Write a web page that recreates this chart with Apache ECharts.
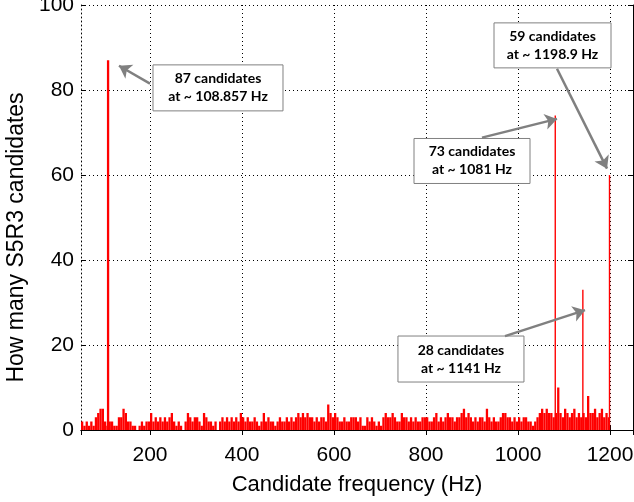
<!DOCTYPE html>
<html><head><meta charset="utf-8">
<script src="https://cdn.jsdelivr.net/npm/echarts@6/dist/echarts.min.js"></script>
<style>html,body{margin:0;padding:0;background:#fff}#c{width:634px;height:502px}</style>
</head><body><div id="c"></div>
<script>
// Histogram of candidate counts, 5 Hz bins starting at 50 Hz
const binStart = 50;
const binWidth = 5;
const noiseCounts = [
  2,1,2,1,2,1,3,4,5,5,
  2,1,2,2,1,1,3,3,5,4,
  2,2,1,1,0,1,2,1,2,2,
  4,2,3,2,3,2,3,2,3,4,
  2,1,2,1,0,2,4,3,2,3,
  3,2,1,4,3,2,2,1,2,0,
  2,3,2,3,2,3,2,3,2,4,
  3,2,3,2,2,3,2,1,2,4,
  2,3,2,2,1,2,3,2,2,3,
  2,3,2,3,4,3,4,3,4,3,
  3,2,3,2,3,3,2,6,4,3,
  4,3,2,2,3,2,2,3,3,3,
  2,3,1,1,3,2,3,2,1,2,
  1,3,4,3,3,4,3,2,2,4,
  3,3,2,3,2,3,2,2,3,3,
  3,2,2,3,4,2,3,2,3,4,
  3,3,2,3,3,4,5,3,4,3,
  2,3,2,3,3,2,5,3,2,3,
  2,2,3,4,4,3,3,2,3,2,
  3,2,3,3,2,2,1,2,3,4,
  5,4,5,4,4,3,4,10,4,3,
  5,4,3,4,5,3,4,3,4,3,
  8,4,4,5,3,4,5,3,4,3
];
// Prominent spikes
const spikeFreqs = [108.857, 1081, 1141, 1198.9];
const spikeCounts = [87, 74, 33, 60];
const spikeWidthsHz = [5, 3, 3, 3];

// Annotations
const annotLines = [
  ['87 candidates', 'at ~ 108.857 Hz'],
  ['59 candidates', 'at ~ 1198.9 Hz'],
  ['73 candidates', 'at ~ 1081 Hz'],
  ['28 candidates', 'at ~ 1141 Hz']
];
const annotCenters = [[347.8, 80.5], [1075, 90.5], [900, 63.3], [876, 16.7]];
const annotSizes = [[130, 46], [117, 45], [116, 45], [126, 46]];
const arrowTails = [[200, 81.5], [1084.8, 85], [921.7, 68.8], [971.7, 22.1]];
const arrowTips = [[132.6, 85.7], [1193.5, 61.5], [1084.8, 73.2], [1145.7, 28.2]];

const xMin = 50, xMax = 1250;
const yMin = 0, yMax = 100, yStep = 20;

const noiseData = noiseCounts.map((v, i) => [binStart + i * binWidth, v]);
const spikeData = spikeFreqs.map((f, i) => [f, spikeCounts[i], spikeWidthsHz[i]]);

const chart = echarts.init(document.getElementById('c'), null, {renderer: 'canvas'});
const dotted = {color: '#000', width: 1, type: [1, 3]};
const font = 'Liberation Sans, Arial, sans-serif';

chart.setOption({
  animation: false,
  backgroundColor: '#fff',
  grid: {left: 81, right: 1, top: 5, bottom: 72, containLabel: false, outerBoundsMode: 'none'},
  xAxis: [{
    type: 'value', min: xMin, max: xMax, splitNumber: 6, position: 'bottom',
    axisLine: {show: true, lineStyle: dotted},
    axisTick: {show: true, inside: true, length: 5, lineStyle: {color: '#000'}},
    axisLabel: {color: '#000', fontSize: 21, fontFamily: font, margin: 15,
      formatter: v => (v % 200 === 0 ? String(v) : '')},
    splitLine: {show: true, lineStyle: dotted},
    name: 'Candidate frequency (Hz)', nameLocation: 'middle', nameGap: 44,
    nameTextStyle: {color: '#000', fontSize: 22, fontFamily: font}
  }, {
    type: 'value', min: xMin, max: xMax, splitNumber: 6, position: 'top',
    axisLine: {show: true, lineStyle: {color: '#000', width: 1}},
    axisTick: {show: true, inside: true, length: 5, lineStyle: {color: '#000'}},
    axisLabel: {show: false}, splitLine: {show: false}
  }],
  yAxis: [{
    type: 'value', min: yMin, max: yMax, interval: yStep,
    axisLine: {show: true, lineStyle: dotted},
    axisTick: {show: true, inside: true, length: 5, lineStyle: {color: '#000'}},
    axisLabel: {color: '#000', fontSize: 21, fontFamily: font, margin: 7},
    splitLine: {show: true, lineStyle: dotted},
    name: 'How many S5R3 candidates', nameLocation: 'middle', nameGap: 52,
    nameTextStyle: {color: '#000', fontSize: 23, fontFamily: font, padding: [0, 40, 0, 0]}
  }, {
    type: 'value', min: yMin, max: yMax, interval: yStep, position: 'right',
    axisLine: {show: true, lineStyle: {color: '#000', width: 1}},
    axisTick: {show: true, inside: true, length: 5, lineStyle: {color: '#000'}},
    axisLabel: {show: false}, splitLine: {show: false}
  }],
  series: [{
    type: 'custom', name: 'noise', clip: true, silent: true,
    renderItem: function (params, api) {
      const f = api.value(0), h = api.value(1);
      const p0 = api.coord([f, h]);
      const p1 = api.coord([f + binWidth, 0]);
      return {type: 'rect', shape: {x: p0[0], y: p0[1], width: p1[0] - p0[0], height: p1[1] - p0[1]},
        style: {fill: '#ff0000'}};
    },
    encode: {x: 0, y: 1},
    data: noiseData
  }, {
    type: 'custom', name: 'spikes', clip: true, silent: true,
    renderItem: function (params, api) {
      const f = api.value(0), h = api.value(1), w = api.value(2);
      const p0 = api.coord([f - w / 2, h]);
      const p1 = api.coord([f + w / 2, 0]);
      return {type: 'rect', shape: {x: p0[0], y: p0[1], width: p1[0] - p0[0], height: p1[1] - p0[1]},
        style: {fill: '#ff0000'}};
    },
    encode: {x: 0, y: 1},
    data: spikeData
  }, {
    type: 'line', name: 'arrows', data: [], silent: true,
    markLine: {
      silent: true, symbol: ['none', 'arrow'], symbolSize: 12,
      label: {show: false}, emphasis: {disabled: true},
      lineStyle: {color: '#808080', width: 2.5, type: 'solid'},
      data: arrowTails.map((t, i) => [{coord: t}, {coord: arrowTips[i]}])
    },
    z: 5
  }]
});

const graphics = annotLines.map((lines, i) => {
  const c = chart.convertToPixel({xAxisIndex: 0, yAxisIndex: 0}, annotCenters[i]);
  const w = annotSizes[i][0], h = annotSizes[i][1];
  return {
    type: 'group', x: c[0], y: c[1], z: 10,
    children: [
      {type: 'rect', shape: {x: -w / 2, y: -h / 2, width: w, height: h},
        style: {fill: '#fff', stroke: '#808080', lineWidth: 1}},
      {type: 'text', x: 0, y: 0,
        style: {text: lines.join('\n'), fill: '#000', font: 'bold 14px Lato, "Open Sans", sans-serif',
          lineHeight: 18, align: 'center', verticalAlign: 'middle'}}
    ]
  };
});
chart.setOption({graphic: graphics});
</script>
</body></html>
